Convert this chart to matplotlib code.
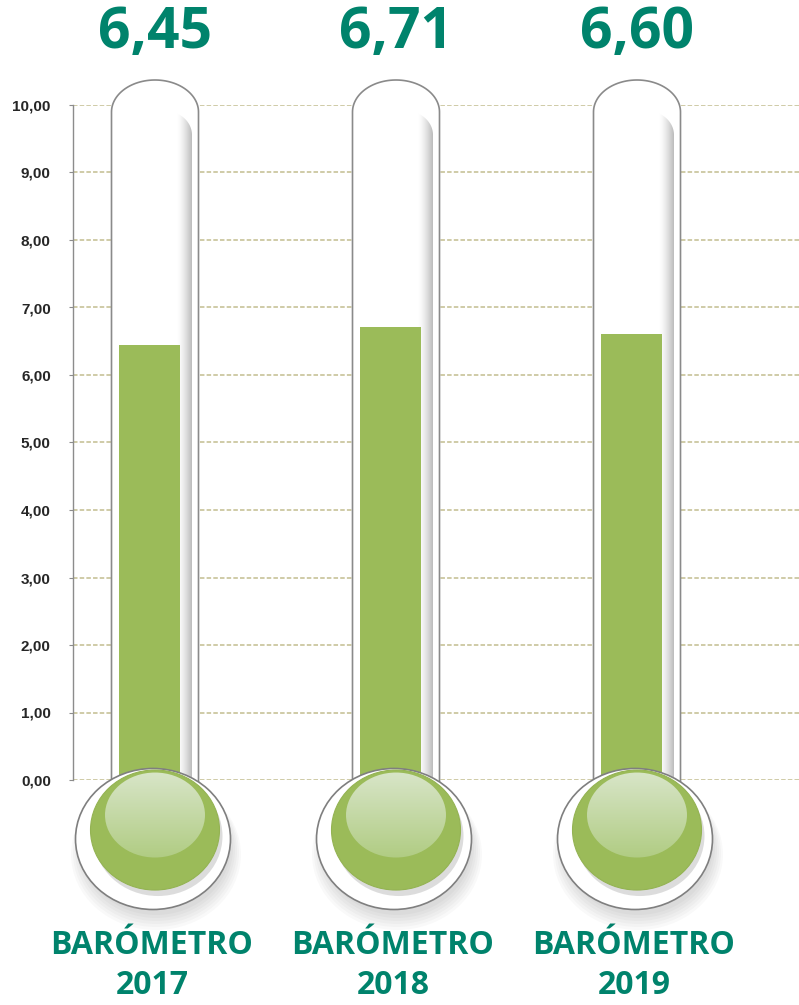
import matplotlib.pyplot as plt
import numpy as np
from matplotlib.patches import Ellipse, PathPatch
from matplotlib.path import Path

# chart data
years = ['2017', '2018', '2019']
scores = [6.45, 6.71, 6.60]
value_labels = ['6,45', '6,71', '6,60']
yticks = np.arange(0, 11, 1)
ytick_labels = [f'{v:.2f}'.replace('.', ',') for v in yticks]

TEAL = '#00836C'
GREEN = '#9BBB59'
GRID = '#CCC7A0'

W, H = 799, 1005
fig = plt.figure(figsize=(W / 100, H / 100), dpi=100)
fig.patch.set_facecolor('white')

# axes box in pixels: x 73..799, y 105..780
ax = fig.add_axes([73 / W, (H - 780) / H, (799 - 73) / W, (780 - 105) / H])
px_x = 241.0            # pixels per category unit
px_y = 675.0 / 10       # pixels per score unit
x0 = 155.0              # pixel position of first category
XLIM = ((73 - x0) / px_x, (799 - x0) / px_x)

for s in ['top', 'right', 'bottom']:
    ax.spines[s].set_visible(False)
ax.spines['left'].set_color('#8C8C8C')
ax.spines['left'].set_linewidth(1.0)
ax.set_xticks([])
ax.set_yticks(yticks)
ax.set_yticklabels(ytick_labels, fontsize=11, fontweight='bold',
                   color='#262626', family='Liberation Sans')
ax.tick_params(axis='y', length=3, width=0.8, color='#8C8C8C', pad=13)
for v in yticks:
    ax.axhline(v, color=GRID, lw=1.3, ls=(0, (2.5, 1.2)), zorder=0)


def px2dx(p):
    return p / px_x


def px2dy(p):
    return p / px_y


def capsule(cx, half_w, y_bottom, y_straight, ry, n=60):
    t = np.linspace(0, np.pi, n)
    xs = np.concatenate([[cx + half_w], cx + half_w * np.cos(t), [cx - half_w]])
    ys = np.concatenate([[y_bottom], y_straight + ry * np.sin(t), [y_bottom]])
    verts = np.column_stack([xs, ys])
    verts = np.vstack([verts, verts[:1]])
    codes = [Path.MOVETO] + [Path.LINETO] * (len(verts) - 2) + [Path.CLOSEPOLY]
    return Path(verts, codes)


xs = np.arange(len(years))
tube_hw = px2dx(43.5)
bar_w = px2dx(61)
bar_off = px2dx(-6)

for i, (x, val) in enumerate(zip(xs, scores)):
    # tube
    tube = capsule(x, tube_hw, -0.5, 10 - px2dy(7), px2dy(32))
    ax.add_patch(PathPatch(tube, facecolor='white', edgecolor='#8A8A8A',
                           lw=1.2, zorder=2, clip_on=False))
    # inner glass shading on the right side
    inner = capsule(x + px2dx(10), px2dx(27), -0.3, 10 - px2dy(30), px2dy(24))
    inner_patch = PathPatch(inner, facecolor='none', edgecolor='none', zorder=3,
                            clip_on=False)
    ax.add_patch(inner_patch)
    u = np.linspace(0, 1, 200)
    a = np.clip((u - 0.72) / 0.28, 0, 1) ** 1.5
    grad = np.zeros((2, 200, 4))
    grad[..., :3] = 0.62
    grad[..., 3] = a * 0.7
    im = ax.imshow(grad, extent=[x + px2dx(-17), x + px2dx(37), -0.3, 10.2],
                   aspect='auto', zorder=3, interpolation='bilinear')
    im.set_clip_path(inner_patch)
    im.set_clip_box(fig.bbox)
    # value bar
    ax.bar(x + bar_off, val, width=bar_w, color=GREEN, zorder=4)

    # bulb
    bx = x - px2dx(2)
    for k in range(6):
        ax.add_patch(Ellipse((bx + px2dx(3), -0.874 - px2dy(8 + k * 1.5)),
                             px2dx(150 + k * 4), px2dy(136 + k * 3),
                             facecolor='#000000', alpha=0.022, lw=0,
                             zorder=4.5, clip_on=False))
    ax.add_patch(Ellipse((bx, -0.874), px2dx(155), px2dy(141), facecolor='white',
                         edgecolor='#7F7F7F', lw=1.2, zorder=5, clip_on=False))
    ax.add_patch(Ellipse((bx + px2dx(5), -0.741 - px2dy(6)), px2dx(129), px2dy(120),
                         facecolor='#9C9C9C', alpha=0.35, lw=0, zorder=5.5,
                         clip_on=False))
    ax.add_patch(Ellipse((bx + px2dx(2), -0.741), px2dx(129), px2dy(120),
                         facecolor=GREEN, edgecolor='#94B353', lw=0.8, zorder=6,
                         clip_on=False))
    hl = Ellipse((bx + px2dx(2), -0.519), px2dx(100), px2dy(85), facecolor='none',
                 lw=0, zorder=7, clip_on=False)
    ax.add_patch(hl)
    v = np.linspace(0, 1, 100)[:, None]
    top = np.array([0.85, 0.90, 0.79])
    bot = np.array([0.69, 0.80, 0.51])
    hg = np.ones((100, 2, 3)) * (top * (1 - v[..., None]) + bot * v[..., None])
    im2 = ax.imshow(hg, extent=[bx - px2dx(52), bx + px2dx(56), -0.519 - px2dy(44),
                                -0.519 + px2dy(44)],
                    aspect='auto', zorder=7, interpolation='bilinear')
    im2.set_clip_path(hl)
    im2.set_clip_box(fig.bbox)

    # labels
    ax.text(x, 10 + px2dy(72), value_labels[i], ha='center', va='center',
            fontsize=41, fontweight='bold', color=TEAL, family='Open Sans',
            clip_on=False)
    ax.text(x - px2dx(3), -px2dy(165), 'BARÓMETRO', ha='center', va='center',
            fontsize=23, fontweight='bold', color=TEAL, family='Open Sans',
            clip_on=False)
    ax.text(x - px2dx(3), -px2dy(205), years[i], ha='center', va='center',
            fontsize=23, fontweight='bold', color=TEAL, family='Open Sans',
            clip_on=False)

ax.set_xlim(*XLIM)
ax.set_ylim(0, 10)

fig.savefig('out.png', dpi=100)
